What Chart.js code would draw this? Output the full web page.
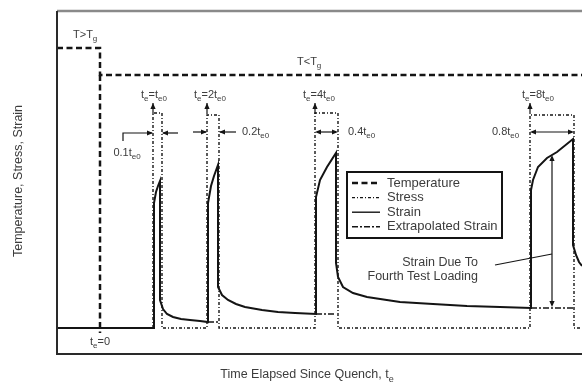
<!DOCTYPE html>
<html>
<head>
<meta charset="utf-8">
<script src="https://cdn.jsdelivr.net/npm/chart.js@4/dist/chart.umd.min.js"></script>
<style>
  body { margin: 0; background: #fff; }
  #wrap { width: 582px; height: 385px; }
</style>
</head>
<body>
<div id="wrap"><canvas id="myChart"></canvas></div>
<script>
// schematic values, x = time units from the left of the frame, y = level
const tempX = [0, 43, 43, 525];
const tempY = [306, 306, 279, 279];

const quenchX = [43, 43];
const quenchY = [279, 21];

const strainX = [0, 97, 97, 99, 101, 103, 103, 106, 110, 116, 124, 133, 143, 151,
  151, 154, 157, 161, 161, 165, 171, 179, 188, 205, 221, 238, 259,
  259, 263, 270, 279, 279, 281, 286, 296, 310, 343, 376, 410, 443, 474,
  474, 476, 481, 490, 500, 516, 516, 519, 522, 525];
const strainY = [26, 26, 151, 162, 168, 173, 54, 45, 40, 37, 35, 34, 33, 32,
  151, 168, 178, 189, 67, 59, 54, 50, 47, 44, 42, 41, 40,
  157, 174, 187, 201, 91, 77, 67, 61, 57, 52, 50, 48, 47, 46,
  164, 174, 187, 196, 202, 215, 109, 99, 92, 88];

// extrapolated strain while the load is on (null = gap)
const extraX = [151, 161, 161, 259, 279, 279, 474, 516];
const extraY = [32, 32, null, 40, 40, null, 46, 46];

const stressX = [96, 96, 105, 105, 150, 150, 162, 162, 258, 258, 281, 281, 473, 473, 517, 517, 525];
const stressY = [26, 241, 241, 26, 26, 239, 239, 26, 26, 241, 241, 26, 26, 239, 239, 26, 26];

const legendLabels = ['Temperature', 'Stress', 'Strain', 'Extrapolated Strain'];

const pts = (xs, ys) => xs.map((x, i) => ({ x: x, y: ys[i] }));

const ink = '#141414';
const textCol = '#3c3c3c';
const dashes = {
  temp: [6, 3.5],
  stress: [3, 2, 1, 2],
  strain: [],
  extra: [6, 2, 2, 2]
};

// annotation texts, in data coords
const texts = [
  { s: 'T>T_{g}', x: 16, y: 319, a: 'left' },
  { s: 'T<T_{g}', x: 240, y: 292, a: 'left' },
  { s: 't_{e}=t_{e0}', x: 97, y: 259, a: 'center' },
  { s: 't_{e}=2t_{e0}', x: 153, y: 259, a: 'center' },
  { s: 't_{e}=4t_{e0}', x: 262, y: 259, a: 'center' },
  { s: 't_{e}=8t_{e0}', x: 481, y: 259, a: 'center' },
  { s: '0.1t_{e0}', x: 70, y: 201, a: 'center' },
  { s: '0.2t_{e0}', x: 185, y: 222, a: 'left' },
  { s: '0.4t_{e0}', x: 291, y: 222, a: 'left' },
  { s: '0.8t_{e0}', x: 435, y: 222, a: 'left' },
  { s: 't_{e}=0', x: 43, y: 12, a: 'center' },
  { s: 'Strain Due To', x: 421, y: 91, a: 'right', big: true },
  { s: 'Fourth Test Loading', x: 421, y: 77, a: 'right', big: true }
];

function richParts(s) {
  const out = [];
  const re = /_\{([^}]*)\}/g;
  let last = 0, m;
  while ((m = re.exec(s)) !== null) {
    if (m.index > last) out.push({ t: s.slice(last, m.index), sub: false });
    out.push({ t: m[1], sub: true });
    last = re.lastIndex;
  }
  if (last < s.length) out.push({ t: s.slice(last), sub: false });
  return out;
}

function drawRich(ctx, s, x, y, align, size) {
  const parts = richParts(s);
  const subSize = Math.round(size * 0.7);
  let w = 0;
  parts.forEach(p => {
    ctx.font = (p.sub ? subSize : size) + 'px "Liberation Sans", Arial, sans-serif';
    p.w = ctx.measureText(p.t).width;
    w += p.w;
  });
  let cx = align === 'center' ? x - w / 2 : align === 'right' ? x - w : x;
  ctx.textAlign = 'left';
  ctx.textBaseline = 'middle';
  parts.forEach(p => {
    ctx.font = (p.sub ? subSize : size) + 'px "Liberation Sans", Arial, sans-serif';
    ctx.fillText(p.t, cx, p.sub ? y + size * 0.35 : y);
    cx += p.w;
  });
}

function head(ctx, x1, y1, x2, y2) {
  const ang = Math.atan2(y2 - y1, x2 - x1);
  const L = 6, W = 2.6;
  ctx.beginPath();
  ctx.moveTo(x2, y2);
  ctx.lineTo(x2 - L * Math.cos(ang) + W * Math.sin(ang), y2 - L * Math.sin(ang) - W * Math.cos(ang));
  ctx.lineTo(x2 - L * Math.cos(ang) - W * Math.sin(ang), y2 - L * Math.sin(ang) + W * Math.cos(ang));
  ctx.closePath();
  ctx.fill();
}

const overlay = {
  id: 'overlay',
  afterDatasetsDraw(chart) {
    const { ctx, chartArea: ca, scales } = chart;
    const X = v => scales.x.getPixelForValue(v);
    const Y = v => scales.y.getPixelForValue(v);
    ctx.save();

    // frame
    ctx.setLineDash([]);
    ctx.strokeStyle = '#8a8a8a';
    ctx.lineWidth = 2.5;
    ctx.beginPath(); ctx.moveTo(ca.left, ca.top); ctx.lineTo(ca.right, ca.top); ctx.stroke();
    ctx.strokeStyle = '#2a2a2a';
    ctx.lineWidth = 2;
    ctx.beginPath();
    ctx.moveTo(ca.left, ca.top); ctx.lineTo(ca.left, ca.bottom); ctx.lineTo(ca.right, ca.bottom);
    ctx.stroke();

    ctx.strokeStyle = ink;
    ctx.fillStyle = ink;
    ctx.lineWidth = 1.2;

    // little arrows at the start of each load
    [96, 150, 258, 473].forEach(v => {
      ctx.beginPath(); ctx.moveTo(X(v), Y(240)); ctx.lineTo(X(v), Y(251)); ctx.stroke();
      head(ctx, X(v), Y(240), X(v), Y(251));
    });

    // load duration markers
    ctx.beginPath();
    ctx.moveTo(X(66), Y(213)); ctx.lineTo(X(66), Y(221)); ctx.lineTo(X(95), Y(221));
    ctx.stroke();
    head(ctx, X(66), Y(221), X(96), Y(221));
    ctx.beginPath(); ctx.moveTo(X(121), Y(221)); ctx.lineTo(X(106), Y(221)); ctx.stroke();
    head(ctx, X(121), Y(221), X(105), Y(221));

    ctx.beginPath(); ctx.moveTo(X(136), Y(222)); ctx.lineTo(X(149), Y(222)); ctx.stroke();
    head(ctx, X(136), Y(222), X(150), Y(222));
    ctx.beginPath(); ctx.moveTo(X(179), Y(222)); ctx.lineTo(X(163), Y(222)); ctx.stroke();
    head(ctx, X(179), Y(222), X(162), Y(222));

    [[258, 281], [473, 517]].forEach(([a, b]) => {
      ctx.beginPath(); ctx.moveTo(X(a + 2), Y(222)); ctx.lineTo(X(b - 2), Y(222)); ctx.stroke();
      head(ctx, X(b), Y(222), X(a), Y(222));
      head(ctx, X(a), Y(222), X(b), Y(222));
    });

    // strain due to fourth loading
    ctx.beginPath(); ctx.moveTo(X(495), Y(197)); ctx.lineTo(X(495), Y(49)); ctx.stroke();
    head(ctx, X(495), Y(120), X(495), Y(199));
    head(ctx, X(495), Y(120), X(495), Y(47));
    ctx.beginPath(); ctx.moveTo(X(438), Y(89)); ctx.lineTo(X(495), Y(100)); ctx.stroke();

    // texts
    ctx.fillStyle = textCol;
    texts.forEach(t => drawRich(ctx, t.s, X(t.x), Y(t.y), t.a, t.big ? 12.5 : 11));

    // legend box
    const lx1 = X(290), lx2 = X(445), ly1 = Y(182), ly2 = Y(116);
    ctx.fillStyle = '#fff';
    ctx.fillRect(lx1, ly1, lx2 - lx1, ly2 - ly1);
    ctx.strokeStyle = ink;
    ctx.lineWidth = 2;
    ctx.strokeRect(lx1, ly1, lx2 - lx1, ly2 - ly1);
    const styles = [
      { d: dashes.temp, w: 2.5 },
      { d: dashes.stress, w: 1.4 },
      { d: dashes.strain, w: 1.4 },
      { d: dashes.extra, w: 1.4 }
    ];
    legendLabels.forEach((lab, i) => {
      const yy = ly1 + 11 + i * 14.6;
      ctx.setLineDash(styles[i].d);
      ctx.lineWidth = styles[i].w;
      ctx.strokeStyle = ink;
      ctx.beginPath(); ctx.moveTo(lx1 + 5, yy); ctx.lineTo(lx1 + 33, yy); ctx.stroke();
      ctx.setLineDash([]);
      ctx.fillStyle = textCol;
      drawRich(ctx, lab, lx1 + 40, yy, 'left', 13);
    });

    // axis titles
    ctx.fillStyle = textCol;
    drawRich(ctx, 'Time Elapsed Since Quench, t_{e}', 307, 375, 'center', 12.5);
    ctx.translate(19, 181);
    ctx.rotate(-Math.PI / 2);
    drawRich(ctx, 'Temperature, Stress, Strain', 0, 0, 'center', 12.5);

    ctx.restore();
  }
};

const ctx = document.getElementById('myChart').getContext('2d');
const myChart = new Chart(ctx, {
  type: 'scatter',
  data: {
    datasets: [
      { label: 'Temperature', data: pts(tempX, tempY), borderColor: ink, borderWidth: 2.5, borderDash: dashes.temp },
      { label: 'Quench', data: pts(quenchX, quenchY), borderColor: ink, borderWidth: 2.5, borderDash: dashes.temp },
      { label: 'Stress', data: pts(stressX, stressY), borderColor: ink, borderWidth: 1.4, borderDash: dashes.stress },
      { label: 'Extrapolated Strain', data: pts(extraX, extraY), borderColor: ink, borderWidth: 1.4, borderDash: dashes.extra },
      { label: 'Strain', data: pts(strainX, strainY), borderColor: ink, borderWidth: 2 }
    ].map(d => Object.assign(d, { showLine: true, pointRadius: 0, tension: 0, spanGaps: false, fill: false }))
  },
  options: {
    responsive: true,
    maintainAspectRatio: false,
    animation: false,
    layout: { padding: { left: 57, top: 11, right: 0, bottom: 31 } },
    plugins: { legend: { display: false }, tooltip: { enabled: false } },
    scales: {
      x: { type: 'linear', min: 0, max: 525, display: false },
      y: { type: 'linear', min: 0, max: 343, display: false }
    }
  },
  plugins: [overlay]
});
</script>
</body>
</html>
